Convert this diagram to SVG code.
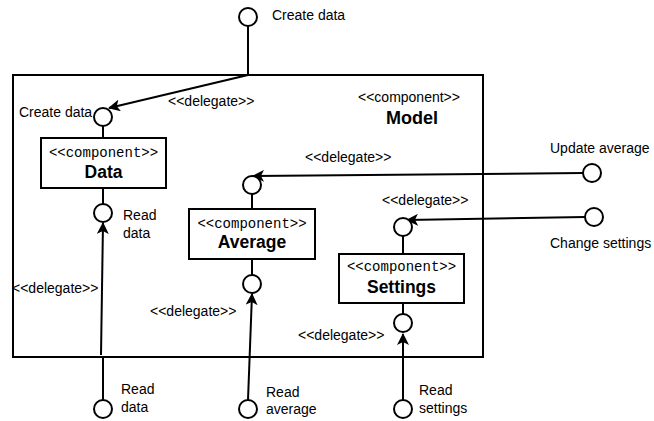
<svg xmlns="http://www.w3.org/2000/svg" width="654" height="421" viewBox="0 0 654 421">
<style>
.box{fill:#fff;stroke:#000;stroke-width:2}
.port{fill:#fff;stroke:#000;stroke-width:2}
.ln{fill:none;stroke:#000;stroke-width:2}
.t{font-family:"Liberation Sans",Arial,sans-serif;font-size:14px;fill:#000}
.m{font-family:"Liberation Mono","Courier New",monospace;font-size:14px;fill:#000}
.b{font-family:"Liberation Sans",Arial,sans-serif;font-size:17.5px;font-weight:bold;fill:#000}
</style>
<defs>
<marker id="arr" markerWidth="12" markerHeight="12" viewBox="0 0 12 12" refX="11" refY="6" orient="auto" markerUnits="userSpaceOnUse">
<path d="M0,0 L12,6 L0,12 L3,6 Z" fill="#000"/>
</marker>
</defs>
<rect width="654" height="421" fill="#fff"/>
<g id="model">
<rect class="box" x="13" y="75" width="470" height="282"/>
<text class="t" x="358" y="102">&lt;&lt;component&gt;&gt;</text>
<text class="b" x="386" y="124" style="font-size:18px">Model</text>
</g>
<g id="connectors">
<line class="ln" x1="248" y1="26" x2="248" y2="75"/>
<line class="ln" x1="248" y1="75" x2="109" y2="108" marker-end="url(#arr)"/>
<line class="ln" x1="103" y1="126" x2="103" y2="138"/>
<line class="ln" x1="103" y1="188" x2="103" y2="204"/>
<line class="ln" x1="101" y1="355" x2="103" y2="223" marker-end="url(#arr)"/>
<line class="ln" x1="103" y1="357" x2="103" y2="400"/>
<line class="ln" x1="583" y1="173" x2="253" y2="176" marker-end="url(#arr)"/>
<line class="ln" x1="252" y1="194" x2="252" y2="209"/>
<line class="ln" x1="252" y1="259" x2="252" y2="275"/>
<line class="ln" x1="248" y1="400" x2="252" y2="294" marker-end="url(#arr)"/>
<line class="ln" x1="585" y1="217" x2="407" y2="220" marker-end="url(#arr)"/>
<line class="ln" x1="403" y1="236" x2="403" y2="254"/>
<line class="ln" x1="403" y1="303" x2="403" y2="314"/>
<line class="ln" x1="403" y1="400" x2="403" y2="334" marker-end="url(#arr)"/>
<text class="t" x="168" y="106">&lt;&lt;delegate&gt;&gt;</text>
<text class="t" x="12" y="293">&lt;&lt;delegate&gt;&gt;</text>
<text class="t" x="305" y="162">&lt;&lt;delegate&gt;&gt;</text>
<text class="t" x="150" y="316">&lt;&lt;delegate&gt;&gt;</text>
<text class="t" x="382" y="205">&lt;&lt;delegate&gt;&gt;</text>
<text class="t" x="298" y="340">&lt;&lt;delegate&gt;&gt;</text>
</g>
<g id="port-create-ext">
<circle class="port" cx="248" cy="17" r="9"/>
<text class="t" x="272" y="20">Create data</text>
</g>
<g id="port-create-int">
<circle class="port" cx="103" cy="117" r="9"/>
<text class="t" x="19" y="117">Create data</text>
</g>
<g id="data">
<rect class="box" x="41" y="138" width="125" height="50"/>
<text class="m" x="103.5" y="157" text-anchor="middle">&lt;&lt;component&gt;&gt;</text>
<text class="b" x="103.5" y="178" text-anchor="middle">Data</text>
</g>
<g id="port-read-data-int">
<circle class="port" cx="103" cy="213" r="9"/>
<text class="t" x="123" y="220">Read</text>
<text class="t" x="123" y="238">data</text>
</g>
<g id="port-read-data-ext">
<circle class="port" cx="103" cy="409" r="9"/>
<text class="t" x="121" y="394">Read</text>
<text class="t" x="121" y="412">data</text>
</g>
<g id="port-avg-in">
<circle class="port" cx="252" cy="185" r="9"/>
</g>
<g id="port-update-avg">
<circle class="port" cx="592" cy="173" r="9"/>
<text class="t" x="550" y="153">Update average</text>
</g>
<g id="average">
<rect class="box" x="189" y="209" width="126" height="50"/>
<text class="m" x="252" y="228" text-anchor="middle">&lt;&lt;component&gt;&gt;</text>
<text class="b" x="252" y="248" text-anchor="middle">Average</text>
</g>
<g id="port-avg-out">
<circle class="port" cx="252" cy="284" r="9"/>
</g>
<g id="port-read-avg">
<circle class="port" cx="248" cy="409" r="9"/>
<text class="t" x="266" y="397">Read</text>
<text class="t" x="266" y="414">average</text>
</g>
<g id="port-settings-in">
<circle class="port" cx="403" cy="227" r="9"/>
</g>
<g id="port-change-settings">
<circle class="port" cx="594" cy="217" r="9"/>
<text class="t" x="550" y="248">Change settings</text>
</g>
<g id="settings">
<rect class="box" x="339" y="254" width="125" height="49"/>
<text class="m" x="401.5" y="271" text-anchor="middle">&lt;&lt;component&gt;&gt;</text>
<text class="b" x="401.5" y="293" text-anchor="middle">Settings</text>
</g>
<g id="port-settings-out">
<circle class="port" cx="403" cy="323" r="9"/>
</g>
<g id="port-read-settings">
<circle class="port" cx="403" cy="409" r="9"/>
<text class="t" x="419" y="395">Read</text>
<text class="t" x="419" y="413">settings</text>
</g>
</svg>
